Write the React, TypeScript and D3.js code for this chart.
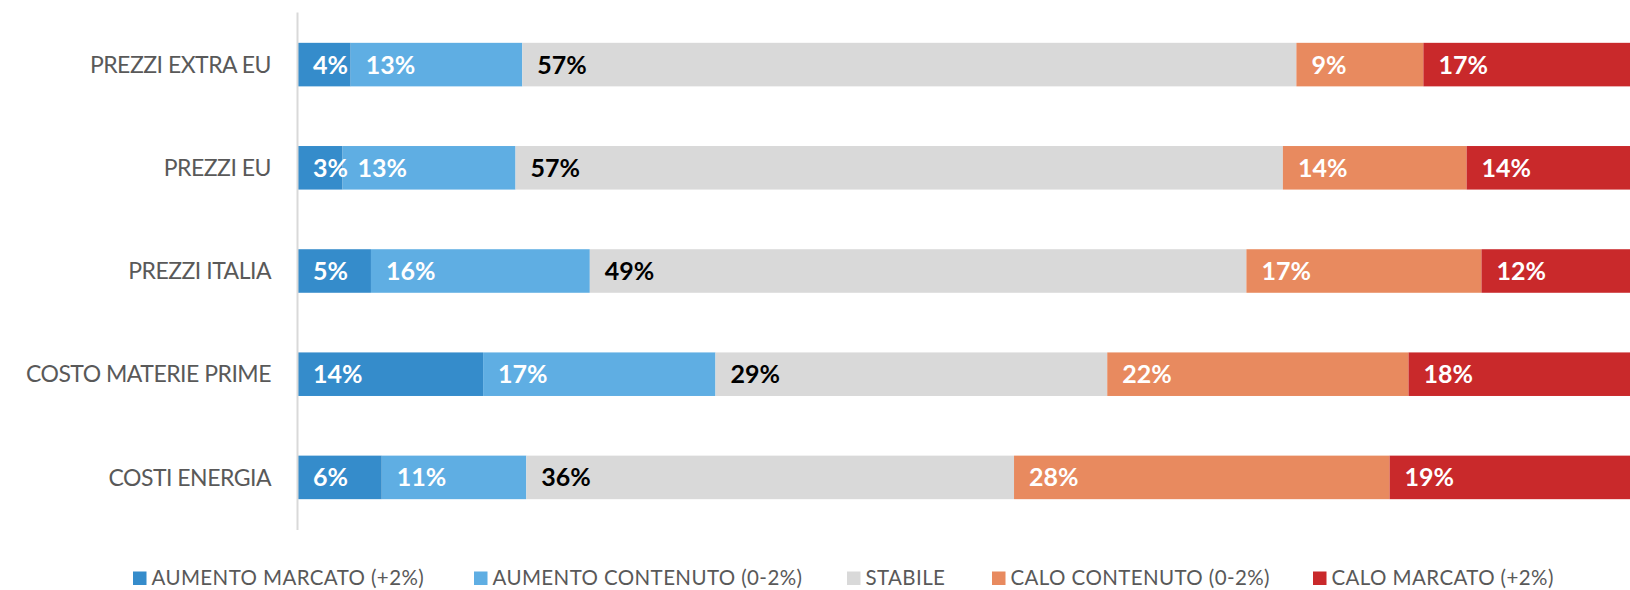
import React from "react";
import * as d3 from "d3";

const categories = ["PREZZI EXTRA EU", "PREZZI EU", "PREZZI ITALIA", "COSTO MATERIE PRIME", "COSTI ENERGIA"];
const seriesNames = ["AUMENTO MARCATO (+2%)", "AUMENTO CONTENUTO (0-2%)", "STABILE", "CALO CONTENUTO (0-2%)", "CALO MARCATO (+2%)"];
const seriesColors = ["#358ccb", "#5faee3", "#d9d9d9", "#e88a5f", "#c9292b"];
const labelColors = ["#ffffff", "#ffffff", "#000000", "#ffffff", "#ffffff"];
const aumentoMarcato = [3.9, 3.3, 5.4, 13.7, 6.2];
const aumentoContenuto = [12.7, 12.8, 16.2, 17.2, 10.7];
const stabile = [57.3, 56.8, 48.6, 29.0, 36.1];
const caloContenuto = [9.4, 13.6, 17.4, 22.3, 27.8];
const caloMarcato = [16.7, 13.5, 12.4, 17.8, 19.2];
const legendX = [133, 474, 847, 992, 1313];

const W = 1630;
const H = 590;

export default function App() {
  const series = [aumentoMarcato, aumentoContenuto, stabile, caloContenuto, caloMarcato];
  const x = d3.scaleLinear().domain([0, 100]).range([298, 1649]);
  const y = d3.scaleBand().domain(categories).range([13, 529]).paddingInner(0.578).paddingOuter(0.289);
  const font = "Lato, 'Open Sans', sans-serif";

  const rows = categories.map((c, i) => {
    let acc = 0;
    return series.map((s, k) => {
      const v = s[i];
      const seg = { k, x0: acc, x1: acc + v, v };
      acc += v;
      return seg;
    });
  });

  return (
    <svg width={W} height={H} style={{ position: "absolute", left: 0, top: 0, background: "#fff" }}>
      {categories.map((c, i) => (
        <g key={c}>
          {rows[i].map((seg) => (
            <rect key={seg.k} x={x(seg.x0)} y={y(c)!} width={x(seg.x1) - x(seg.x0)} height={y.bandwidth()} fill={seriesColors[seg.k]} />
          ))}
          {rows[i].map((seg) => (
            <text key={"t" + seg.k} x={x(seg.x0) + 15} y={y(c)! + y.bandwidth() / 2} dy="0.36em" fontFamily={font} fontWeight={700} fontSize={25} fill={labelColors[seg.k]}>
              {Math.round(seg.v) + "%"}
            </text>
          ))}
          <text x={271} y={y(c)! + y.bandwidth() / 2} dy="0.36em" textAnchor="end" fontFamily={font} fontSize={23} letterSpacing={-0.5} fill="#595959">
            {c}
          </text>
        </g>
      ))}
      <line x1={297.5} x2={297.5} y1={12.5} y2={530} stroke="#d9d9d9" strokeWidth={2} />
      {seriesNames.map((n, k) => (
        <g key={n}>
          <rect x={legendX[k]} y={571.5} width={13.5} height={13.5} fill={seriesColors[k]} />
          <text x={legendX[k] + 18.5} y={578} dy="0.36em" fontFamily={font} fontSize={20.5} letterSpacing={0.4} fill="#595959">
            {n}
          </text>
        </g>
      ))}
    </svg>
  );
}
